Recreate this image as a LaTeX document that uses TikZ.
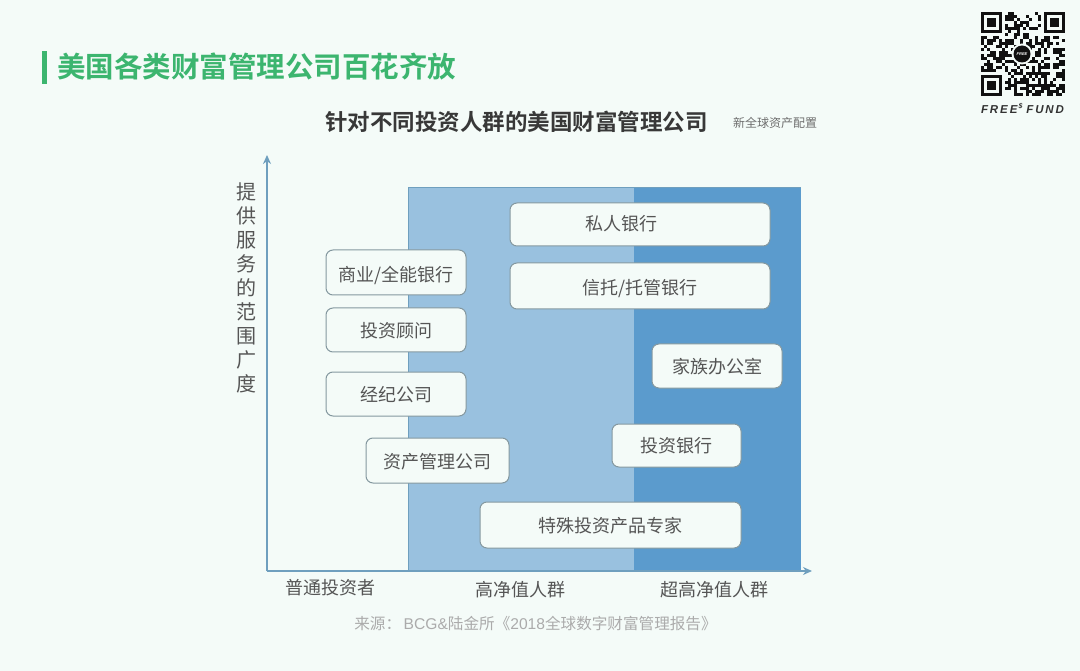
\documentclass[tikz,border=0pt]{standalone}
\usepackage{fontspec}
\setmainfont{Noto Sans CJK SC}
\newfontfamily\cjkbold[BoldFont={Noto Sans CJK SC Bold}]{Noto Sans CJK SC}
\newfontfamily\latinb{Liberation Sans}
\usetikzlibrary{arrows.meta}
\definecolor{bgc}{HTML}{F4FBF8}
\definecolor{lightb}{HTML}{99C1DF}
\definecolor{darkb}{HTML}{5B9BCD}
\definecolor{axisc}{HTML}{6F9FBE}
\definecolor{greenc}{HTML}{3CB56F}
\definecolor{textc}{HTML}{555555}
\definecolor{srcc}{HTML}{ABABAB}
\definecolor{boxe}{HTML}{84989F}
\definecolor{qrc}{HTML}{111111}
\tikzset{
  x=1pt,y=-1pt,
  box/.style={draw=boxe,line width=1pt,fill=bgc,rounded corners=7pt,text=textc,font=\fontsize{18}{20}\selectfont,inner sep=0pt,anchor=center,text height=15pt,text depth=1.5pt},
  axlabel/.style={text=textc,font=\fontsize{18}{20}\selectfont,inner sep=0pt},
  vert/.style={text=textc,font=\fontsize{20}{23.9}\selectfont,inner sep=0pt,align=center},
  axisline/.style={draw=axisc,line width=1.5pt,-{Stealth[length=9pt,width=8pt]}},
}
\newcommand{\mybox}[6]{\node[box,minimum width=#4pt-#3pt,minimum height=#6pt-#5pt] (#1) at ({(#3+#4)/2},{(#5+#6)/2}) {#2};}
\newcommand{\finder}[2]{%
  \fill[qrc] (#1,#2) rectangle ++(21,21);
  \fill[bgc] (#1+3,#2+3) rectangle ++(15,15);
  \fill[qrc] (#1+6,#2+6) rectangle ++(9,9);}
\begin{document}
\begin{tikzpicture}
\useasboundingbox (0,0) rectangle (1080,671);
\fill[bgc] (0,0) rectangle (1080,671);
% heading
\fill[greenc] (42,51) rectangle (47,84);
\node[anchor=west,inner sep=0pt,text=greenc,font=\cjkbold\bfseries\fontsize{28.5}{30}\selectfont] (head) at (57,67) {美国各类财富管理公司百花齐放};
% QR
\pgfmathsetseed{2018}
\foreach \i in {0,...,27}{\foreach \j in {0,...,27}{
  \pgfmathsetmacro{\r}{rnd}
  \ifdim\r pt<0.5pt
    \fill[qrc] ({981+3*\i},{12+3*\j}) rectangle ++(3,3);
  \fi
}}
\fill[bgc] (981,12) rectangle ++(24,24);
\fill[bgc] (1041,12) rectangle ++(24,24);
\fill[bgc] (981,72) rectangle ++(24,24);
\finder{981}{12}\finder{1044}{12}\finder{981}{75}
\fill[bgc] (1022,54) circle (10.5);
\node[circle,fill=qrc,minimum size=17pt,inner sep=0pt,text=white,font=\latinb\bfseries\itshape\fontsize{4}{4}\selectfont] (logo) at (1022,54) {FREE};
\node[anchor=center,inner sep=0pt,text=black!80,font=\latinb\bfseries\itshape\fontsize{11.5}{12}\selectfont] (brand) at (1022.5,108.5) {F\,R\,E\,E\raisebox{5pt}{\fontsize{7}{7}\selectfont\,\$}\,\,F\,U\,N\,D};
% chart title
\node[inner sep=0pt,text=black!78,font=\cjkbold\bfseries\fontsize{22.5}{24}\selectfont] (title) at (516.5,122) {针对不同投资人群的美国财富管理公司};
\node[inner sep=0pt,text=textc!85,font=\fontsize{12}{14}\selectfont] (sub) at (775,123) {新全球资产配置};
% regions
\fill[lightb] (408,187) rectangle (634,571);
\fill[darkb] (634,187) rectangle (801,571);
\draw[axisc,line width=0.8pt] (408,571) -- (408,187) -- (801,187);
% axes
\coordinate (o) at (267,571);
\coordinate (ytop) at (267,155);
\coordinate (xend) at (812,571);
\draw[axisline] (o) -- (ytop);
\draw[axisline] (o) -- (xend);
% boxes
\mybox{a}{\raisebox{-2pt}{商业/全能银行}}{326}{466}{250}{295}
\mybox{b}{\raisebox{-1pt}{投资顾问}}{326}{466}{308}{352}
\mybox{c}{\raisebox{-1pt}{经纪公司}}{326}{466}{372}{416}
\mybox{d}{\raisebox{-1pt}{资产管理公司}}{366}{509}{438}{483}
\mybox{e}{\hspace*{-38pt}\raisebox{1pt}{私人银行}}{510}{770}{203}{246}
\mybox{f}{\raisebox{-2pt}{信托/托管银行}}{510}{770}{263}{309}
\mybox{g}{\raisebox{-1pt}{家族办公室}}{652}{782}{344}{388}
\mybox{h}{投资银行}{612}{741}{424}{467}
\mybox{i}{\raisebox{-1pt}{特殊投资产品专家}}{480}{741}{502}{548}
% labels
\node[vert] (ylab) at (246,288) {提\\供\\服\\务\\的\\范\\围\\广\\度};
\node[axlabel] (l1) at (330.5,588) {普通投资者};
\node[axlabel] (l2) at (520,590) {高净值人群};
\node[axlabel] (l3) at (714.5,590) {超高净值人群};
\node[inner sep=0pt,text=srcc,font=\fontsize{15.6}{17}\selectfont] (src) at (535.5,624) {来源：\,{\latinb BCG\&}陆金所《{\latinb 2018}全球数字财富管理报告》};
\end{tikzpicture}
\end{document}
